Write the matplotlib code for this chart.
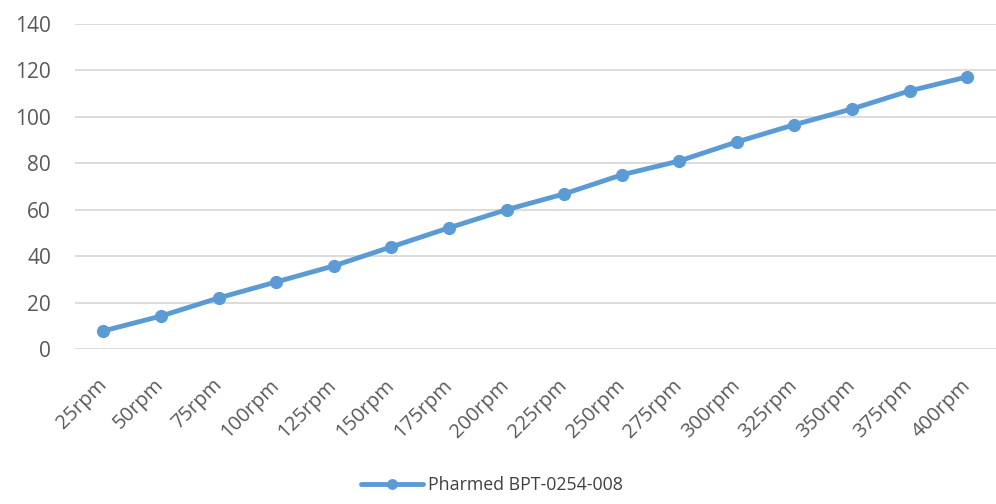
import matplotlib
matplotlib.use("Agg")
import matplotlib.pyplot as plt

categories = ["25rpm", "50rpm", "75rpm", "100rpm", "125rpm", "150rpm", "175rpm", "200rpm",
              "225rpm", "250rpm", "275rpm", "300rpm", "325rpm", "350rpm", "375rpm", "400rpm"]
values = [7.8, 14.2, 22.0, 28.9, 35.8, 44.0, 52.2, 60.0,
          66.8, 75.0, 81.0, 89.2, 96.6, 103.4, 111.2, 117.2]
series_name = "Pharmed BPT-0254-008"
yticks = [0, 20, 40, 60, 80, 100, 120, 140]

plt.rcParams['font.family'] = ['Open Sans', 'DejaVu Sans']

fig = plt.figure(figsize=(9.96, 5.04), dpi=100)
ax = fig.add_axes([0.075, 0.3075, 0.925, 0.645])

x = list(range(len(categories)))
ax.plot(x, values, color="#5B9BD5", linewidth=3.5, marker="o", markersize=8.5,
        label=series_name, solid_capstyle="round")

ax.set_xlim(-0.5, len(categories) - 0.5)
ax.set_ylim(0, 140)
ax.set_yticks(yticks)
ax.set_yticklabels([str(v) for v in yticks])
ax.set_xticks(x)
ax.set_xticklabels(categories, rotation=45, ha="right", va="center", rotation_mode="anchor")

ax.grid(axis="y", color="#D9D9D9", linewidth=1.3)
ax.set_axisbelow(True)
for s in ax.spines.values():
    s.set_visible(False)
ax.tick_params(axis="both", length=0, colors="#595959")
ax.tick_params(axis="y", pad=17, labelsize=15)
ax.tick_params(axis="x", pad=24, labelsize=14.5)

leg = fig.legend(loc="center", bbox_to_anchor=(0.494, 0.037), frameon=False,
                 fontsize=12.8, handlelength=3.5, handletextpad=0.3,
                 labelcolor="#404040", markerscale=0.8)

fig.savefig("out.png", dpi=100, facecolor="white")
